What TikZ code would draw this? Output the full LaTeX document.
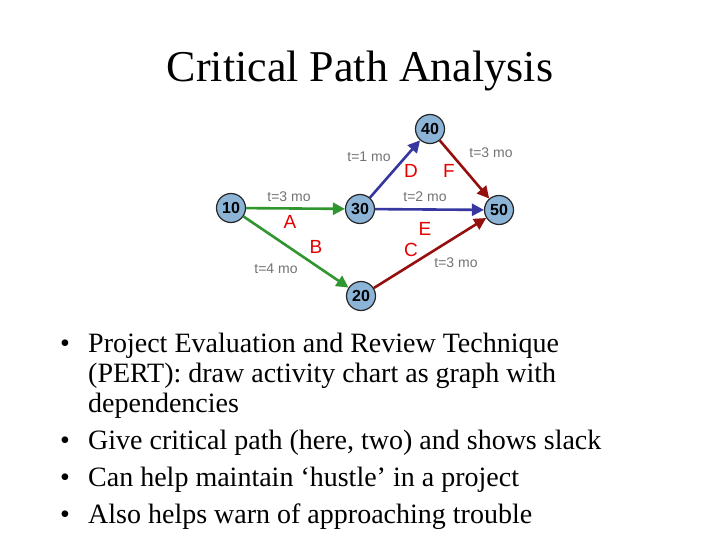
\documentclass[tikz,border=0pt]{standalone}
\usepackage{fontspec}
\setmainfont{Liberation Serif}
\newfontfamily\lab{Liberation Sans}
\usetikzlibrary{arrows.meta}
\definecolor{ng}{RGB}{48,150,48}
\definecolor{nb}{RGB}{55,55,160}
\definecolor{nr}{RGB}{150,15,15}
\definecolor{nf}{RGB}{140,180,215}
\begin{document}
\begin{tikzpicture}[x=1pt,y=-1pt,
  ev/.style={circle,draw=black!85,line width=1.2pt,fill=nf,minimum size=29pt,inner sep=0pt,font=\lab\bfseries\fontsize{16}{16}\selectfont},
  act/.style={line width=2.6pt,-{Triangle[length=12pt,width=12pt]}},
  tl/.style={font=\lab\fontsize{14}{14}\selectfont,text=black!55},
  ll/.style={font=\lab\fontsize{19}{19}\selectfont,text=red!90!black},
  bul/.style={anchor=base west,inner sep=0pt,font=\fontsize{28}{30}\selectfont}]
\useasboundingbox[fill=white] (0,0) rectangle (720,540);
\node (title) at (360,71) {\fontsize{44}{48}\selectfont Critical Path Analysis};
\node[ev] (n10) at (231,208) {10};
\node[ev] (n30) at (360,209) {30};
\node[ev] (n40) at (430,129) {40};
\node[ev] (n50) at (499,210) {50};
\node[ev] (n20) at (361,296) {20};
\draw[act,ng] (n10) -- (n30);
\draw[act,ng] (n10) -- (n20);
\draw[act,nb] (n30) -- (n40);
\draw[act,nb] (n30) -- (n50);
\draw[act,nr] (n40) -- (n50);
\draw[act,nr] (n20) -- (n50);
\node[tl] (t1) at (289,197) {t=3 mo};
\node[tl] (t2) at (276,269) {t=4 mo};
\node[tl] (t3) at (369,157) {t=1 mo};
\node[tl] (t4) at (425,197) {t=2 mo};
\node[tl] (t5) at (491,153) {t=3 mo};
\node[tl] (t6) at (456,263) {t=3 mo};
\node[ll] (lA) at (290,222) {A};
\node[ll] (lB) at (316,247) {B};
\node[ll] (lD) at (411,171) {D};
\node[ll] (lF) at (449,171) {F};
\node[ll] (lE) at (425,229) {E};
\node[ll] (lC) at (411,250) {C};
\foreach \y in {352,449,486,523} \node[bul] at (60,\y) {•};
\node[bul] (b1) at (88,352) {Project Evaluation and Review Technique};
\node[bul] (b1b) at (88,382) {(PERT): draw activity chart as graph with};
\node[bul] (b1c) at (88,412) {dependencies};
\node[bul] (b2) at (88,449) {Give critical path (here, two) and shows slack};
\node[bul] (b3) at (88,486) {Can help maintain ‘hustle’ in a project};
\node[bul] (b4) at (88,523) {Also helps warn of approaching trouble};
\end{tikzpicture}
\end{document}
